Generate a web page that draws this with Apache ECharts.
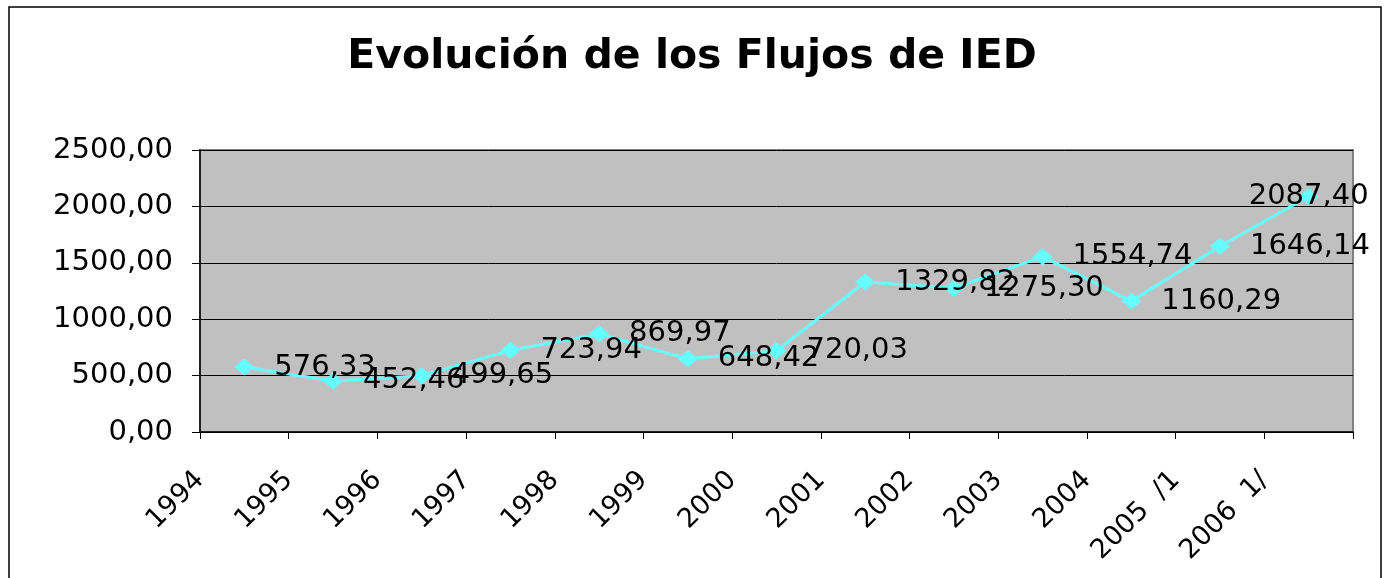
<!DOCTYPE html>
<html>
<head>
<meta charset="utf-8">
<script src="https://cdn.jsdelivr.net/npm/echarts@6/dist/echarts.min.js"></script>
<style>
  html, body { margin: 0; padding: 0; background: #fff; }
  #chart { width: 1384px; height: 578px; }
</style>
</head>
<body>
<div id="chart"></div>
<script>
var years = ['1994', '1995', '1996', '1997', '1998', '1999', '2000', '2001', '2002', '2003', '2004', '2005  /1', '2006  1/'];
var flujos = [576.33, 452.46, 499.65, 723.94, 869.97, 648.42, 720.03, 1329.82, 1275.30, 1554.74, 1160.29, 1646.14, 2087.40];
var yTicks = [0, 500, 1000, 1500, 2000, 2500];

function fmt(v) {
    return Number(v).toFixed(2).replace('.', ',');
}

var myChart = echarts.init(document.getElementById('chart'));

var font = 'DejaVu Sans';

// last point: label sits on the point (Excel moved it there)
var seriesData = flujos.map(function (v, i) {
    if (i === flujos.length - 1) {
        return { value: v, label: { position: 'inside', offset: [9, 0] } };
    }
    return v;
});

var option = {
    animation: false,
    backgroundColor: '#ffffff',
    title: {
        text: 'Evolución de los Flujos de IED',
        left: 'center',
        top: 32,
        textStyle: {
            fontFamily: font,
            fontWeight: 'bold',
            fontSize: 41,
            color: '#000'
        }
    },
    graphic: [{
        type: 'rect',
        shape: { x: 9, y: 7, width: 1372, height: 620 },
        style: { fill: 'none', stroke: '#000', lineWidth: 1.5 },
        silent: true
    }],
    grid: {
        left: 200,
        right: 31,
        top: 150,
        bottom: 146,
        show: true,
        backgroundColor: '#C0C0C0',
        borderColor: '#808080',
        borderWidth: 2
    },
    xAxis: [{
        type: 'category',
        data: years,
        boundaryGap: true,
        axisLine: { show: true, lineStyle: { color: '#000', width: 1.5 } },
        axisTick: { show: true, inside: false, length: 7, lineStyle: { color: '#000' } },
        axisLabel: { show: false },
        splitLine: { show: false }
    }, {
        // labels sit on the band boundaries, as in the original
        type: 'category',
        data: years.concat(['']),
        boundaryGap: false,
        position: 'bottom',
        axisLine: { show: false },
        axisTick: { show: false },
        splitLine: { show: false },
        axisLabel: {
            rotate: 45,
            margin: 44,
            interval: 0,
            fontFamily: font,
            fontSize: 27,
            color: '#000'
        }
    }],
    yAxis: {
        type: 'value',
        min: yTicks[0],
        max: yTicks[yTicks.length - 1],
        interval: 500,
        axisLine: { show: true, lineStyle: { color: '#000', width: 1.5 } },
        axisTick: { show: true, inside: false, length: 8, lineStyle: { color: '#000' } },
        splitLine: { show: true, lineStyle: { color: '#000', width: 1 } },
        axisLabel: {
            margin: 27,
            fontFamily: font,
            fontSize: 29,
            color: '#000',
            formatter: function (v) { return fmt(v); }
        }
    },
    series: [{
        name: 'IED',
        type: 'line',
        xAxisIndex: 0,
        data: seriesData,
        symbol: 'diamond',
        symbolSize: [20, 17],
        itemStyle: { color: '#66FFFF' },
        lineStyle: { color: '#66FFFF', width: 3 },
        label: {
            show: true,
            position: 'right',
            distance: 20,
            fontFamily: font,
            fontSize: 29,
            color: '#000',
            formatter: function (p) { return fmt(p.value); }
        },
        labelLayout: { hideOverlap: false },
        z: 3
    }]
};

myChart.setOption(option);
</script>
</body>
</html>
